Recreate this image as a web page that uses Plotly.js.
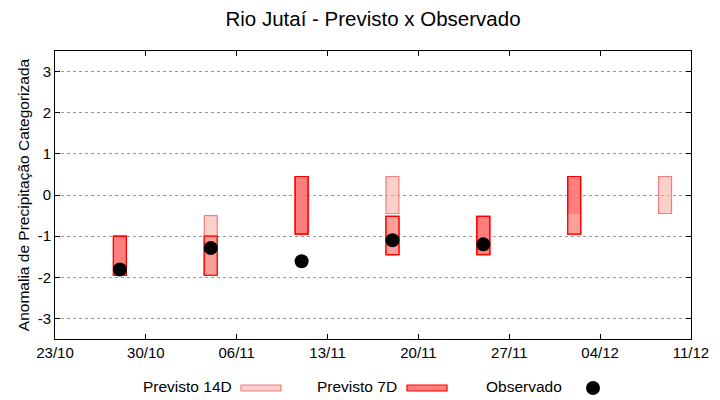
<!DOCTYPE html>
<html>
<head>
<meta charset="utf-8">
<script src="https://cdn.plot.ly/plotly-3.0.1.min.js"></script>
<style>html,body{margin:0;padding:0;background:#fff;}#chart{width:720px;height:400px;}</style>
</head>
<body>
<div id="chart"></div>
<script>
// Previsto 7D: date, top, bottom
const dates7 = ['2023-10-28','2023-11-04','2023-11-11','2023-11-18','2023-11-25','2023-12-02'];
const top7 = [-1.0, -1.0, 0.45, -0.52, -0.52, 0.45];
const bottom7 = [-1.95, -1.95, -0.95, -1.45, -1.45, -0.95];

// Previsto 14D: date, top, bottom
const dates14 = ['2023-11-04','2023-11-18','2023-11-18','2023-12-02','2023-12-09'];
const top14 = [-0.5, 0.45, -0.52, -0.45, 0.45];
const bottom14 = [-1.95, -0.45, -1.45, -0.95, -0.45];

// Observado
const datesObs = ['2023-10-28','2023-11-04','2023-11-11','2023-11-18','2023-11-25'];
const valuesObs = [-1.81, -1.29, -1.61, -1.1, -1.2];

const tickVals = [-3, -2, -1, 0, 1, 2, 3];
const legendLabels = ['Previsto 14D', 'Previsto 7D', 'Observado'];

const DAY = 86400000;
const FONT = 'Liberation Sans, Arial, sans-serif';
const c7fill = '#ff7f7f', c7line = '#ff0000';
const c14fill = 'rgba(250,177,170,0.62)', c14line = '#f08080';

const h7 = top7.map((t, i) => t - bottom7[i]);
const h14 = top14.map((t, i) => t - bottom14[i]);

const traces = [
  {type: 'bar', x: dates7, y: h7, base: bottom7, width: dates7.map(() => DAY),
   marker: {color: c7fill, line: {color: c7line, width: 1.2}}, showlegend: false, hoverinfo: 'skip'},
  {type: 'bar', x: dates14, y: h14, base: bottom14, width: dates14.map(() => DAY),
   marker: {color: c14fill, line: {color: c14line, width: 1.2}}, showlegend: false, hoverinfo: 'skip'},
  {type: 'bar', x: dates7, y: h7, base: bottom7, width: dates7.map(() => DAY),
   marker: {color: 'rgba(0,0,0,0)', line: {color: c7line, width: 1.2}}, showlegend: false, hoverinfo: 'skip'},
  {type: 'scatter', mode: 'markers', x: datesObs, y: valuesObs,
   marker: {color: '#000', size: 14}, showlegend: false}
];

// legend (text left, swatch right) in paper coordinates
const L = 55, R = 691, T = 51, B = 339;
const px = v => (v - L) / (R - L);
const py = v => (B - v) / (B - T);

const annotations = [
  {text: legendLabels[0], x: px(234), xanchor: 'right'},
  {text: legendLabels[1], x: px(399), xanchor: 'right'},
  {text: legendLabels[2], x: px(564), xanchor: 'right'}
].map(a => Object.assign({xref: 'paper', yref: 'paper', y: py(386), yanchor: 'middle',
  showarrow: false, font: {family: FONT, size: 15.5, color: '#000'}}, a));

const shapes = [
  {type: 'rect', xref: 'paper', yref: 'paper', x0: px(241), x1: px(281), y0: py(385), y1: py(391),
   fillcolor: c14fill, line: {color: c14line, width: 1.2}},
  {type: 'rect', xref: 'paper', yref: 'paper', x0: px(407), x1: px(447), y0: py(385), y1: py(391),
   fillcolor: c7fill, line: {color: c7line, width: 1.2}},
  {type: 'circle', xref: 'paper', yref: 'paper', x0: px(586), x1: px(600), y0: py(381), y1: py(395),
   fillcolor: '#000', line: {color: '#000', width: 0}}
];

const layout = {
  width: 720, height: 400,
  margin: {l: 55, r: 29, t: 51, b: 61},
  paper_bgcolor: '#fff', plot_bgcolor: '#fff',
  font: {family: FONT, size: 15, color: '#000'},
  title: {text: 'Rio Jutaí - Previsto x Observado', x: 0.5, xref: 'paper', y: 1 - 19/400, yanchor: 'middle',
          font: {family: FONT, size: 20.5, color: '#000'}},
  barmode: 'overlay',
  showlegend: false,
  xaxis: {type: 'date', range: ['2023-10-23', '2023-12-11'], tick0: '2023-10-23', dtick: 7 * DAY,
          tickformat: '%d/%m', ticks: 'inside', ticklen: 5, tickcolor: '#000',
          showline: true, linecolor: '#000', linewidth: 1, mirror: 'ticks',
          showgrid: false, zeroline: false, tickfont: {size: 15, family: FONT, color: '#000'}},
  yaxis: {range: [-3.5, 3.5], tickvals: tickVals, ticktext: tickVals.map(String),
          ticks: 'inside', ticklen: 5, tickcolor: '#000',
          showline: true, linecolor: '#000', linewidth: 1, mirror: 'ticks',
          showgrid: true, gridcolor: '#999', griddash: 'dot', gridwidth: 1, zeroline: false,
          tickfont: {size: 15, family: FONT, color: '#000'},
          title: {text: 'Anomalia de Precipitação Categorizada', font: {size: 15.5, family: FONT, color: '#000'}, standoff: 4}},
  annotations: annotations,
  shapes: shapes
};

Plotly.newPlot('chart', traces, layout, {staticPlot: true, displayModeBar: false});
</script>
</body>
</html>
